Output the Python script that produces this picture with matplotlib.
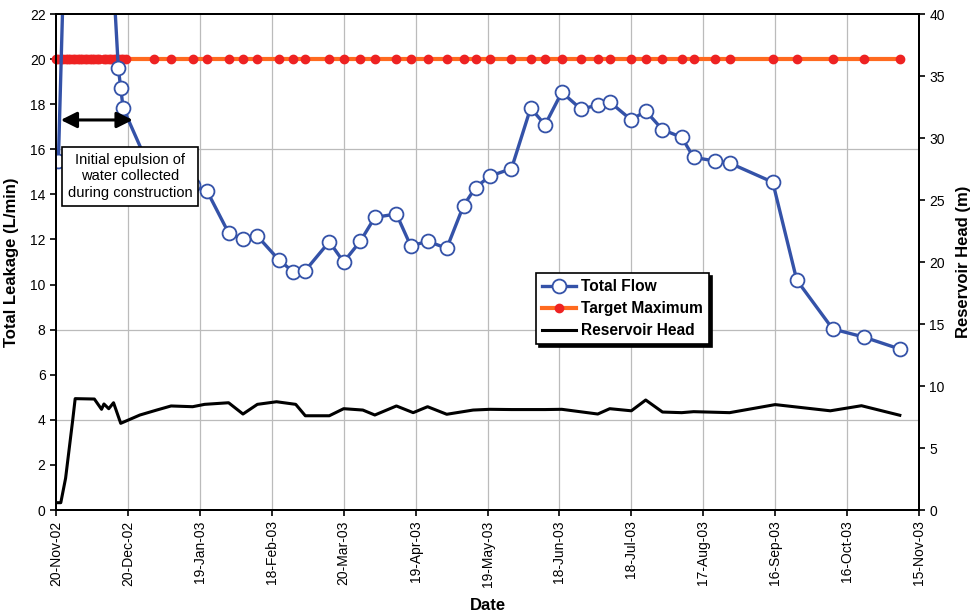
import numpy as np
import matplotlib
matplotlib.use("Agg")
import matplotlib.pyplot as plt
import matplotlib.dates as mdates
from matplotlib.lines import Line2D

plt.rcParams['font.family'] = ['Liberation Sans', 'DejaVu Sans']

start = np.datetime64('2002-11-20')

# Total flow (L/min), day offsets from 20-Nov-02
flow_day = [1, 10, 26, 27, 28, 41, 48, 57, 63, 72, 78, 84, 93, 99, 104, 114, 120,
            127, 133, 142, 148, 155, 163, 170, 175, 181, 190, 198, 204, 211, 219,
            226, 231, 240, 246, 253, 261, 266, 275, 281, 299, 309, 324, 337, 352]
flow_val = [15.5, 50.0, 19.6, 18.72, 17.83, 14.7, 14.6, 14.4, 14.15, 12.29, 12.02,
            12.15, 11.09, 10.56, 10.62, 11.9, 11.0, 11.93, 12.98, 13.13, 11.71,
            11.92, 11.61, 13.5, 14.3, 14.81, 15.14, 17.83, 17.08, 18.53, 17.78,
            17.96, 18.1, 17.3, 17.7, 16.87, 16.53, 15.64, 15.48, 15.39, 14.54,
            10.2, 8.03, 7.67, 7.14]

# Target maximum (L/min)
target_day = list(range(0, 19)) + list(range(20, 30)) + [41, 48, 57] + flow_day[8:]
target_level = 20.0

# Reservoir head (m)
head_day = [0, 2, 4, 7, 8, 16, 19, 20, 22, 24, 27, 35, 42, 48, 57, 62, 72, 78, 84,
            92, 100, 104, 114, 120, 128, 133, 142, 149, 155, 163, 174, 181, 190,
            198, 204, 211, 226, 231, 240, 246, 253, 261, 266, 281, 300, 323, 336, 352]
head_val = [0.59, 0.59, 2.56, 7.3, 8.98, 8.95, 8.12, 8.55, 8.17, 8.65, 6.99, 7.66,
            8.06, 8.39, 8.33, 8.52, 8.65, 7.74, 8.52, 8.73, 8.52, 7.6, 7.6, 8.17,
            8.06, 7.66, 8.39, 7.85, 8.33, 7.72, 8.06, 8.12, 8.1, 8.1, 8.1, 8.12,
            7.74, 8.17, 8.0, 8.87, 7.9, 7.85, 7.93, 7.85, 8.5, 8.0, 8.41, 7.64]

tick_days = list(range(0, 361, 30))


def to_dates(days):
    return start + np.array(days).astype('timedelta64[D]')


flow_dates = to_dates(flow_day)
target_dates = to_dates(target_day)
head_dates = to_dates(head_day)

fig = plt.figure(figsize=(9.73, 6.13), dpi=100)
ax = fig.add_axes([56 / 973, 1 - 510 / 613, (919 - 56) / 973, (510 - 14) / 613])
ax2 = ax.twinx()

blue = '#3452A8'
orange = '#FF6A1F'
red = '#EE2222'

# grid
for d in tick_days[1:-1]:
    ax.axvline(to_dates([d])[0], color='#BBBBBB', lw=0.9, zorder=0)
for y in [4, 8, 16]:
    ax.axhline(y, color='#BBBBBB', lw=0.9, zorder=0)

ax.plot(target_dates, np.full(len(target_dates), target_level), color=orange, lw=3,
        marker='o', ms=6, mfc=red, mec=red, zorder=3, clip_on=False)
ax.plot(flow_dates, flow_val, color=blue, lw=2.4, marker='o', ms=10,
        mfc='white', mec=blue, mew=1.3, zorder=4)
ax2.plot(head_dates, head_val, color='black', lw=2.2, zorder=3)

ax.set_xlim(to_dates([0])[0], to_dates([360])[0])
ax.set_ylim(0, 22)
ax.set_yticks(range(0, 23, 2))
ax2.set_ylim(0, 40)
ax2.set_yticks(range(0, 41, 5))

ax.set_xticks(to_dates(tick_days))
ax.xaxis.set_major_formatter(mdates.DateFormatter('%d-%b-%y'))
for lbl in ax.get_xticklabels():
    lbl.set_rotation(90)

for a in (ax, ax2):
    for s in a.spines.values():
        s.set_linewidth(1.4)
        s.set_color('black')
    a.tick_params(direction='out', length=4, width=1.2, labelsize=10, colors='black')

ax.set_ylabel('Total Leakage (L/min)', fontsize=12, fontweight='bold', labelpad=8)
ax2.set_ylabel('Reservoir Head (m)', fontsize=12, fontweight='bold', labelpad=8)
ax.set_xlabel('Date', fontsize=12, fontweight='bold', labelpad=8)

# annotation
ax.annotate('', xy=(to_dates([32])[0], 17.3), xytext=(to_dates([2])[0], 17.3),
            arrowprops=dict(arrowstyle='<|-|>', color='black', lw=2.2,
                            mutation_scale=24, shrinkA=0, shrinkB=0), zorder=6)
ax.text(to_dates([31])[0], 14.8, 'Initial epulsion of\nwater collected\nduring construction',
        ha='center', va='center', fontsize=10.5, linespacing=1.25, zorder=7,
        bbox=dict(boxstyle='square,pad=0.4', fc='white', ec='black', lw=1.2))

handles = [
    Line2D([], [], color=blue, lw=2.4, marker='o', ms=10, mfc='white', mec=blue, mew=1.3),
    Line2D([], [], color=orange, lw=3, marker='o', ms=6, mfc=red, mec=red),
    Line2D([], [], color='black', lw=2.2),
]
leg = ax2.legend(handles, ['Total Flow', 'Target Maximum', 'Reservoir Head'],
                 loc='lower left', bbox_to_anchor=(0.547, 0.318), fancybox=False,
                 framealpha=1, edgecolor='black', shadow={'color': 'black', 'alpha': 1},
                 prop={'weight': 'bold', 'size': 11.2}, handlelength=2.2,
                 borderpad=0.4, labelspacing=0.45, handletextpad=0.3)
leg.get_frame().set_linewidth(1.2)
leg.set_zorder(10)

fig.savefig('out.png', dpi=100)
